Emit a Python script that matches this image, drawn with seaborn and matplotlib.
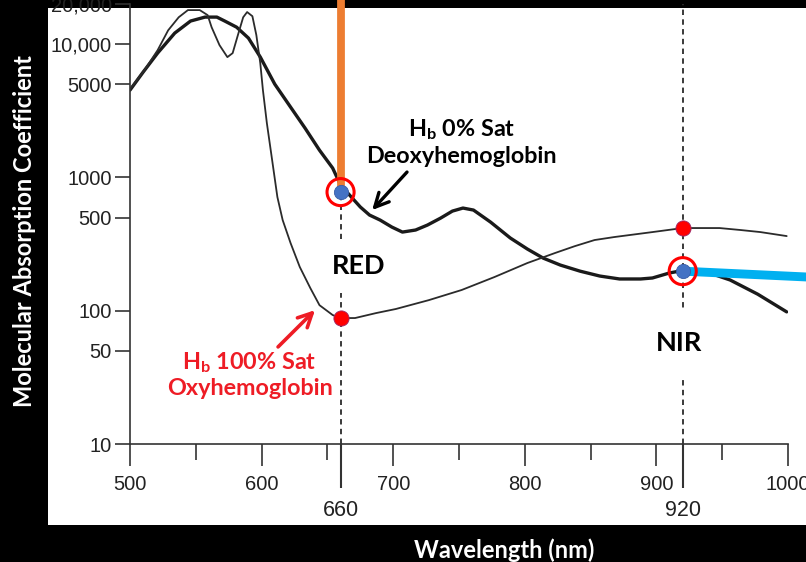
import numpy as np
import pandas as pd

import matplotlib
matplotlib.use("Agg")
import matplotlib.pyplot as plt
import seaborn as sns
from matplotlib.patches import Rectangle
from matplotlib.ticker import NullLocator

# -----------------------
# Data
# -----------------------
WL_DEOXY = [500, 510, 521, 534, 546, 557, 566, 572, 581, 590, 599, 610, 622, 633,
            644, 654, 660, 675, 682, 690, 699, 707, 717, 726, 736, 745, 753, 761,
            774, 789, 802, 814, 827, 842, 857, 872, 888, 897, 910, 922, 933, 945,
            956, 977, 999]
ABS_DEOXY = [4520, 6170, 8570, 12100, 14900, 15950, 15950, 14900, 13400, 11100, 8000,
             5010, 3370, 2345, 1600, 1175, 876, 600, 522, 479, 424, 389, 403, 439,
             495, 559, 589, 569, 462, 351, 290, 248, 220, 198, 182, 173, 173, 176,
             192, 202, 195, 185, 170, 133, 98]

WL_OXY = [500, 511, 521, 529, 537, 544, 553, 559, 562, 568, 574, 578, 582, 586, 589,
          593, 596, 599, 601, 604, 608, 612, 616, 622, 629, 637, 644, 654, 660, 671,
          687, 702, 727, 752, 777, 802, 823, 838, 853, 868, 897, 920, 933, 948, 964,
          979, 999]
ABS_OXY = [4600, 6380, 9010, 12700, 15900, 18000, 18000, 16500, 13400, 9830, 7990,
           8560, 11700, 15900, 17400, 16200, 11700, 7200, 4520, 2555, 1350, 712, 479,
           322, 213, 148, 110, 92.8, 88.1, 88.1, 96, 103, 120, 143, 179, 228, 271,
           305, 339, 357, 389, 417, 417, 417, 403, 389, 363]

MARK_WL = [660, 920]
MARK_DEOXY = [776, 198]
MARK_OXY = [88, 415]

X_TICKS = [500, 600, 700, 800, 900, 1000]
X_MINOR = [550, 650, 750, 850, 950]
Y_TICKS = [10, 50, 100, 500, 1000, 5000, 10000, 20000]
Y_LABELS = ["10", "50", "100", "500", "1000", "5000", "10,000", "20,000"]

# annotation anchors (data coords)
CYAN_END = (1025, 177)
ORANGE_TOP = 40000

INK = "#1a1a1a"
TICK_C = "#222222"

sns.set_theme(style="white")
plt.rcParams["font.family"] = ["Liberation Sans", "DejaVu Sans"]
plt.rcParams["mathtext.fontset"] = "custom"
plt.rcParams["mathtext.rm"] = "Lato:bold"
plt.rcParams["mathtext.it"] = "Lato:bold"
plt.rcParams["mathtext.bf"] = "Lato:bold"

W, H = 806, 562
fig = plt.figure(figsize=(W / 100, H / 100), dpi=100, facecolor="black")

# white "scan" panel on black slide
fig.patches.append(Rectangle((48 / W, 1 - 525 / H), 758 / W, 517 / H,
                             transform=fig.transFigure, facecolor="white",
                             edgecolor="none", zorder=-1))

ax = fig.add_axes([130 / W, 1 - 444 / H, 658 / W, 440 / H])
ax.set_facecolor("none")

# vertical dashed guides at 660 / 920 nm
for wl in MARK_WL:
    ax.axvline(wl, color="#2a2a2a", lw=1.3, ls=(0, (3, 2.4)), zorder=1)

sns.lineplot(x=WL_DEOXY, y=ABS_DEOXY, ax=ax, color=INK, lw=2.4,
             sort=False, estimator=None, zorder=2)
sns.lineplot(x=WL_OXY, y=ABS_OXY, ax=ax, color="#2b2b2b", lw=1.3,
             sort=False, estimator=None, zorder=2)

# orange / cyan pointer bars
ax.plot([MARK_WL[0], MARK_WL[0]], [MARK_DEOXY[0], ORANGE_TOP], color="#ED7D31",
        lw=5.6, solid_capstyle="butt", clip_on=False, zorder=3)
ax.plot([MARK_WL[1], CYAN_END[0]], [MARK_DEOXY[1], CYAN_END[1]], color="#00B0F0",
        lw=6.4, solid_capstyle="butt", clip_on=False, zorder=3)

sns.scatterplot(x=MARK_WL, y=MARK_OXY, ax=ax, color="#FF0000", s=120,
                edgecolor="#9a2a6a", linewidth=0.6, zorder=4)
sns.scatterplot(x=MARK_WL, y=MARK_DEOXY, ax=ax, color="#4472C4", s=105,
                edgecolor="#3a5ea8", linewidth=0.6, zorder=4)
ax.scatter(MARK_WL, MARK_DEOXY, s=380, facecolor="none", edgecolor="#FF0000",
           linewidth=2.2, zorder=5)

ax.set_xscale("linear")
ax.set_yscale("log")
ax.set_xlim(500, 1000)
ax.set_ylim(10, 20000)

ax.set_xticks(X_TICKS)
ax.set_xticks(X_MINOR, minor=True)
ax.set_yticks(Y_TICKS, Y_LABELS)
ax.yaxis.set_minor_locator(NullLocator())
ax.tick_params(axis="x", which="major", bottom=True, direction="out", length=16,
               width=1.2, pad=6, labelsize=14.5, color="#333333", labelcolor=TICK_C)
ax.tick_params(axis="x", which="minor", bottom=True, direction="out", length=11.5,
               width=1.2, color="#333333")
ax.tick_params(axis="y", left=True, direction="out", length=11, width=1.2, pad=2,
               labelsize=14.5, color="#333333", labelcolor=TICK_C)

sec = ax.secondary_xaxis("bottom")
sec.set_xticks(MARK_WL)
sec.tick_params(axis="x", bottom=True, direction="out", length=32, width=1.5, pad=8,
                labelsize=15.5, color="#333333", labelcolor=TICK_C)
sec.spines["bottom"].set_visible(False)

sns.despine(ax=ax)
for side in ["left", "bottom"]:
    ax.spines[side].set_color("#333333")
    ax.spines[side].set_linewidth(1.2)

# labels on the slide
lab = dict(family=["Lato", "DejaVu Sans"], weight="bold")
ax.text(674, 216, "RED", ha="center", va="center", fontsize=19.5, color="black",
        bbox=dict(boxstyle="square,pad=0.55", fc="white", ec="none"), zorder=6, **lab)
ax.text(917, 57, "NIR", ha="center", va="center", fontsize=19.5, color="black",
        bbox=dict(boxstyle="square,pad=0.75", fc="white", ec="none"), zorder=6, **lab)

ax.text(752, 1840, "H$_\\mathrm{b}$ 0% Sat\nDeoxyhemoglobin", ha="center", va="center",
        fontsize=16.8, color="black", linespacing=1.25, zorder=6, **lab)
ax.text(591, 33, "H$_\\mathrm{b}$ 100% Sat\nOxyhemoglobin", ha="center", va="center",
        fontsize=16.8, color="#EE1C25", linespacing=1.15, zorder=6, **lab)

ax.annotate("", xy=(684, 569), xytext=(710.5, 1097),
            arrowprops=dict(arrowstyle="->,head_length=1.0,head_width=0.5",
                            lw=2.4, color="black", mutation_scale=10,
                            shrinkA=0, shrinkB=0), zorder=6)
ax.annotate("", xy=(640.6, 101), xytext=(612.5, 53.5),
            arrowprops=dict(arrowstyle="->,head_length=1.0,head_width=0.5",
                            lw=2.6, color="#EE1C25", mutation_scale=10,
                            shrinkA=0, shrinkB=0), zorder=6)

fig.text(25 / W, 1 - 231 / H, "Molecular Absorption Coefficient", rotation=90,
         ha="center", va="center", color="white", fontsize=17, **lab)
fig.text(504 / W, 1 - 550 / H, "Wavelength (nm)", ha="center", va="center",
         color="white", fontsize=17, **lab)

fig.savefig("out.png", dpi=100, facecolor=fig.get_facecolor())
